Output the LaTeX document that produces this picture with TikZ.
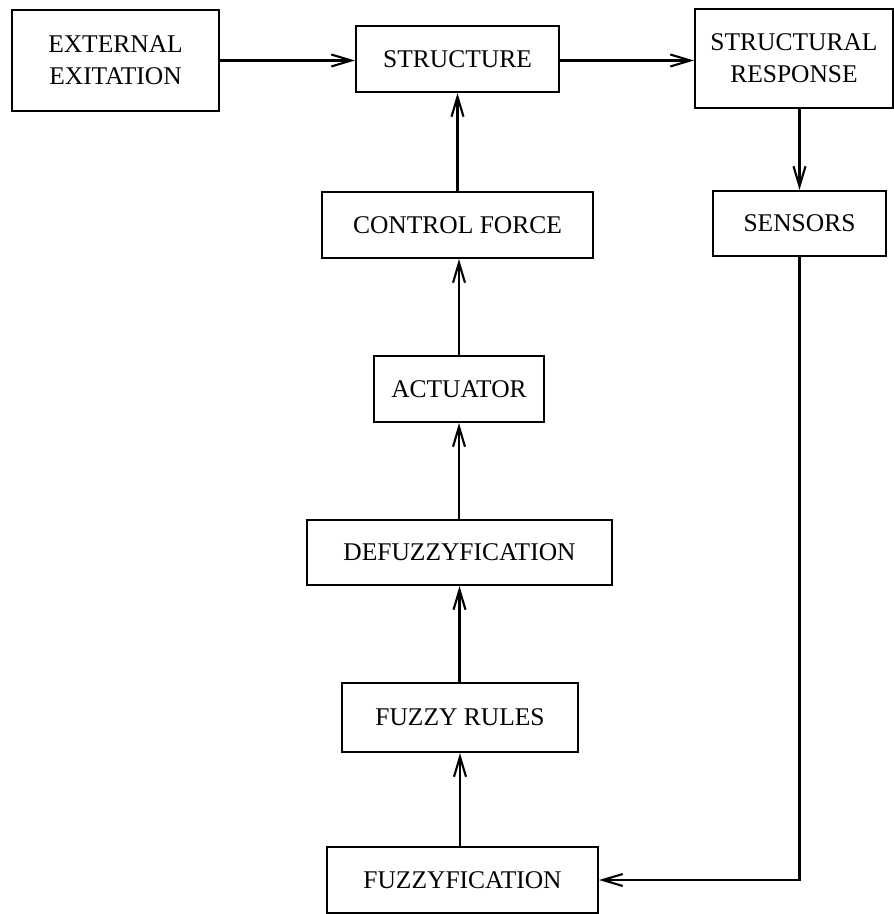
\documentclass[tikz,border=0pt]{standalone}
\usepackage{fontspec}
\setmainfont{Liberation Serif}
\usetikzlibrary{arrows.meta}
\tikzstyle{block} = [draw, rectangle, line width=1.2pt,
    inner sep=0pt, align=center, font=\fontsize{14.5}{18}\selectfont]
\tikzstyle{link} = [draw, ->, line width=1.2pt]

\begin{document}
\begin{tikzpicture}[node distance=0em, >={Straight Barb[length=4mm,width=2.4mm,line width=1.2pt]}] 
    \useasboundingbox (0,0) rectangle (17.86,-18.28);
    \node [block, minimum width=4.06cm, minimum height=1.32cm] (struct) at (9.15,-1.18) {STRUCTURE};
    \node [block, minimum width=4.14cm, minimum height=2.02cm, left of=struct, xshift=-6.84cm, yshift=-0.03cm] (excit) {EXTERNAL\\EXITATION};
    \node [block, minimum width=3.96cm, minimum height=1.98cm, right of=struct, xshift=6.73cm, yshift=0.01cm] (resp) {STRUCTURAL\\RESPONSE};
    \node [block, minimum width=3.46cm, minimum height=1.30cm, below of=resp, xshift=0.11cm, yshift=-3.30cm] (sens) {SENSORS};
    \node [block, minimum width=5.42cm, minimum height=1.32cm, below of=struct, yshift=-3.32cm] (force) {CONTROL FORCE};
    \node [block, minimum width=3.40cm, minimum height=1.32cm, below of=force, xshift=0.03cm, yshift=-3.28cm] (act) {ACTUATOR};
    \node [block, minimum width=6.10cm, minimum height=1.30cm, below of=act, xshift=0.01cm, yshift=-3.27cm] (defuzz) {DEFUZZYFICATION};
    \node [block, minimum width=4.72cm, minimum height=1.38cm, below of=defuzz, xshift=0.01cm, yshift=-3.30cm] (rules) {FUZZY RULES};
    \node [block, minimum width=5.42cm, minimum height=1.32cm, below of=rules, xshift=0.05cm, yshift=-3.25cm] (fuzz) {FUZZYFICATION};

    \draw [link] (excit.east) -- (struct.west |- excit.east);
    \draw [link] (struct.east |- excit.east) -- (resp.west |- excit.east);
    \draw [link] (sens.north |- resp.south) -- (sens.north);
    \draw [link] (sens.south) |- (fuzz.east);
    \draw [link] (rules.south |- fuzz.north) -- (rules.south);
    \draw [link] (defuzz.south |- rules.north) -- (defuzz.south);
    \draw [link] (act.south |- defuzz.north) -- (act.south);
    \draw [link] (act.north) -- (act.north |- force.south);
    \draw [link] (force.north) -- (force.north |- struct.south);
\end{tikzpicture}
\end{document}
